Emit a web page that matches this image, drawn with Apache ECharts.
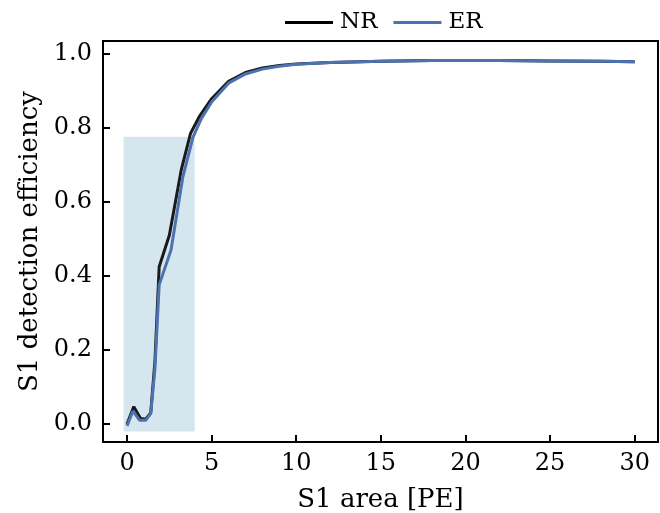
<!DOCTYPE html>
<html><head><meta charset="utf-8">
<script src="https://cdn.jsdelivr.net/npm/echarts@6/dist/echarts.min.js"></script>
<style>html,body{margin:0;padding:0;background:#fff}#c{width:660px;height:513px}</style>
</head><body><div id="c"></div>
<script>
const xNR = [0.0,0.4,0.8,1.1,1.4,1.65,1.9,2.5,3.2,3.75,4.3,5.0,6.0,7.0,8.0,9.0,10.0,12.0,15.0,18.0,20.0,22.0,25.0,28.0,30.0];
const yNR = [0.0,0.047,0.015,0.013,0.03,0.17,0.425,0.51,0.686,0.785,0.833,0.879,0.926,0.950,0.962,0.969,0.973,0.977,0.980,0.982,0.982,0.982,0.981,0.980,0.979];
const xER = [0.0,0.35,0.75,1.1,1.4,1.65,1.9,2.6,3.3,3.9,4.4,5.0,6.0,7.0,8.0,9.0,10.0,12.0,15.0,18.0,20.0,22.0,25.0,28.0,30.0];
const yER = [-0.005,0.035,0.01,0.01,0.028,0.15,0.376,0.47,0.668,0.775,0.826,0.870,0.921,0.946,0.959,0.967,0.972,0.977,0.980,0.982,0.982,0.982,0.981,0.980,0.979];
const xTicks = [0,5,10,15,20,25,30];
const yTicks = [0,0.2,0.4,0.6,0.8,1.0];
const shadeX = [-0.2, 4.0];
const shadeY = [-0.02, 0.776];

const FONT = 'DejaVu Serif';
const chart = echarts.init(document.getElementById('c'));
chart.setOption({
  animation:false,
  textStyle:{fontFamily:FONT},
  legend:{top:6,left:280,itemWidth:48,itemHeight:3,itemGap:16,
    textStyle:{fontFamily:FONT,fontSize:23,color:'#000',padding:[0,0,0,2]},
    data:[{name:'NR',icon:'rect'},{name:'ER',icon:'rect'}]},
  grid:{left:103,top:41,right:2,bottom:71,show:true,borderColor:'#000',borderWidth:2,containLabel:false,outerBoundsMode:'none'},
  xAxis:{type:'value',min:-1.42,max:31.38,
    name:'S1 area [PE]',nameLocation:'middle',nameGap:45,
    nameTextStyle:{fontFamily:FONT,fontSize:26,color:'#000'},
    axisLine:{onZero:false,lineStyle:{color:'#000',width:2}},
    axisTick:{inside:true,length:7,lineStyle:{color:'#000',width:2},customValues:xTicks},
    axisLabel:{color:'#000',fontSize:24,fontFamily:FONT,margin:10,customValues:xTicks,formatter:v=>String(v)},
    splitLine:{show:false}},
  yAxis:{type:'value',min:-0.0486,max:1.035,
    name:'S1 detection efficiency',nameLocation:'middle',nameGap:60,
    nameTextStyle:{fontFamily:FONT,fontSize:26,color:'#000'},
    axisLine:{onZero:false,lineStyle:{color:'#000',width:2}},
    axisTick:{inside:true,length:7,lineStyle:{color:'#000',width:2},customValues:yTicks},
    axisLabel:{color:'#000',fontSize:24,fontFamily:FONT,margin:11,customValues:yTicks,formatter:v=>v.toFixed(1)},
    splitLine:{show:false}},
  series:[
    {name:'shade',type:'line',data:[],silent:true,
      markArea:{silent:true,itemStyle:{color:'rgb(214,230,238)'},
        data:[[{xAxis:shadeX[0],yAxis:shadeY[0]},{xAxis:shadeX[1],yAxis:shadeY[1]}]]}},
    {name:'NR',type:'line',showSymbol:false,symbol:'none',
      data:xNR.map((x,i)=>[x,yNR[i]]),
      lineStyle:{color:'#1a1a1a',width:3},itemStyle:{color:'#000'}},
    {name:'ER',type:'line',showSymbol:false,symbol:'none',
      data:xER.map((x,i)=>[x,yER[i]]),
      lineStyle:{color:'#4c72b0',width:3},itemStyle:{color:'#4c72b0'}}
  ]
});
</script></body></html>
